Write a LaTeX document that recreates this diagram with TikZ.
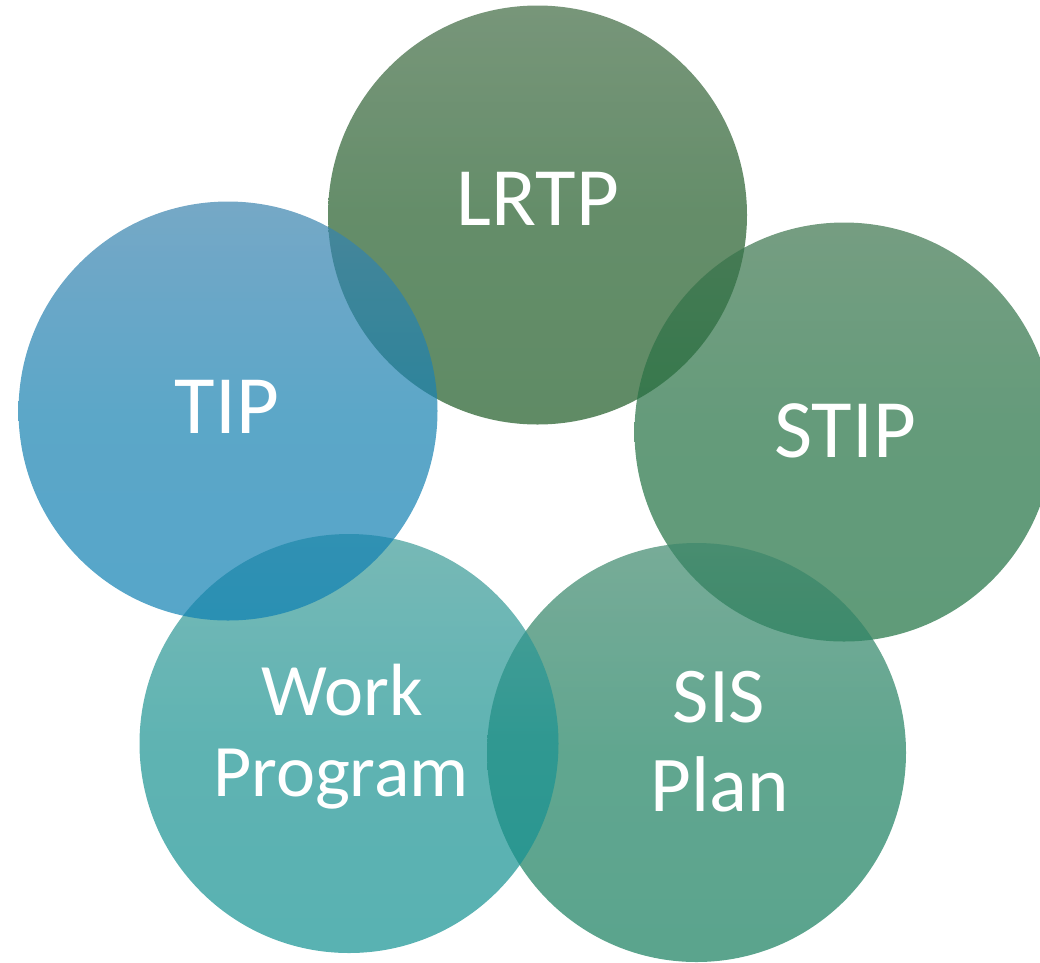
\documentclass[tikz,border=0pt]{standalone}
\usepackage{fontspec}
\setmainfont{Carlito}
\definecolor{lrtpT}{RGB}{62,105,65}
\definecolor{lrtpB}{RGB}{28,90,36}
\definecolor{tipT}{RGB}{59,131,174}
\definecolor{tipB}{RGB}{14,128,178}
\definecolor{stipT}{RGB}{59,116,76}
\definecolor{stipB}{RGB}{28,112,64}
\definecolor{wpT}{RGB}{62,155,151}
\definecolor{wpB}{RGB}{18,145,145}
\definecolor{sisT}{RGB}{62,136,108}
\definecolor{sisB}{RGB}{21,126,93}
\begin{document}
\begin{tikzpicture}[x=1pt,y=-1pt,
  bubble/.style={circle, minimum size=419pt, inner sep=0pt, fill opacity=0.7, draw=none},
  lbl/.style={text=white, font=\fontsize{83}{83}\selectfont, anchor=base, inner sep=0pt},
  lblwp/.style={lbl, font=\fontsize{74}{74}\selectfont},
  lblsis/.style={lbl, font=\fontsize{79}{79}\selectfont}]
\useasboundingbox (0,0) rectangle (1040,962);
\clip (0,0) rectangle (1040,962);
\node[bubble, top color=lrtpT, bottom color=lrtpB, middle color=lrtpB!80!lrtpT] (lrtp) at (537.5,215) {};
\node[bubble, top color=stipT, bottom color=stipB, middle color=stipB!80!stipT] (stip) at (844,432) {};
\node[bubble, top color=sisT, bottom color=sisB, middle color=sisB!80!sisT] (sis) at (696.5,752.5) {};
\node[bubble, top color=wpT, bottom color=wpB, middle color=wpB!80!wpT] (wp) at (349,743.5) {};
\node[bubble, top color=tipT, bottom color=tipB, middle color=tipB!80!tipT] (tip) at (228,411) {};
\node[lbl] (lrtpl) at (538,225) {LRTP};
\node[lbl] (tipl) at (227,433) {TIP};
\node[lbl] (stipl) at (845,457) {STIP};
\node[lblwp] (wpl1) at (342,715) {Work};
\node[lblwp] (wpl2) at (341,796) {Program};
\node[lblsis] (sisl1) at (719,722) {SIS};
\node[lblsis] (sisl2) at (720,811) {Plan};
\end{tikzpicture}
\end{document}
